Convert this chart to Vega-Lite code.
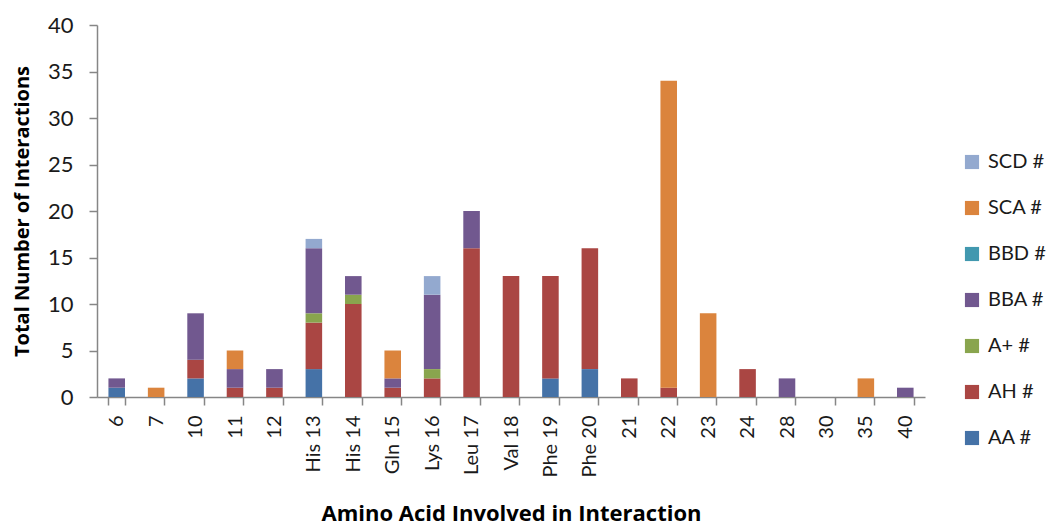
{
  "$schema": "https://vega.github.io/schema/vega-lite/v6.json",
  "autosize": {"type": "none"},
  "padding": {"left": 97, "top": 25, "right": 125, "bottom": 128},
  "width": 828,
  "height": 372,
  "background": "white",
  "config": {
    "view": {"stroke": null},
    "font": "Lato",
    "axis": {"domainColor": "#868686", "tickColor": "#868686", "labelColor": "#1a1a1a", "titleColor": "#000000", "grid": false, "labelFont": "Lato", "titleFont": "Open Sans"},
    "legend": {"labelFont": "Lato"}
  },
  "datasets": {
    "types": [
      {"type": "AA #", "rank": 1},
      {"type": "AH #", "rank": 2},
      {"type": "A+ #", "rank": 3},
      {"type": "BBA #", "rank": 4},
      {"type": "BBD #", "rank": 5},
      {"type": "SCA #", "rank": 6},
      {"type": "SCD #", "rank": 7}
    ]
  },
  "data": {"values": [
    {"aa": "6", "type": "AA #", "n": 1},
    {"aa": "6", "type": "BBA #", "n": 1},
    {"aa": "7", "type": "SCA #", "n": 1},
    {"aa": "10", "type": "AA #", "n": 2},
    {"aa": "10", "type": "AH #", "n": 2},
    {"aa": "10", "type": "BBA #", "n": 5},
    {"aa": "11", "type": "AH #", "n": 1},
    {"aa": "11", "type": "BBA #", "n": 2},
    {"aa": "11", "type": "SCA #", "n": 2},
    {"aa": "12", "type": "AH #", "n": 1},
    {"aa": "12", "type": "BBA #", "n": 2},
    {"aa": "His 13", "type": "AA #", "n": 3},
    {"aa": "His 13", "type": "AH #", "n": 5},
    {"aa": "His 13", "type": "A+ #", "n": 1},
    {"aa": "His 13", "type": "BBA #", "n": 7},
    {"aa": "His 13", "type": "SCD #", "n": 1},
    {"aa": "His 14", "type": "AH #", "n": 10},
    {"aa": "His 14", "type": "A+ #", "n": 1},
    {"aa": "His 14", "type": "BBA #", "n": 2},
    {"aa": "Gln 15", "type": "AH #", "n": 1},
    {"aa": "Gln 15", "type": "BBA #", "n": 1},
    {"aa": "Gln 15", "type": "SCA #", "n": 3},
    {"aa": "Lys 16", "type": "AH #", "n": 2},
    {"aa": "Lys 16", "type": "A+ #", "n": 1},
    {"aa": "Lys 16", "type": "BBA #", "n": 8},
    {"aa": "Lys 16", "type": "SCD #", "n": 2},
    {"aa": "Leu 17", "type": "AH #", "n": 16},
    {"aa": "Leu 17", "type": "BBA #", "n": 4},
    {"aa": "Val 18", "type": "AH #", "n": 13},
    {"aa": "Phe 19", "type": "AA #", "n": 2},
    {"aa": "Phe 19", "type": "AH #", "n": 11},
    {"aa": "Phe 20", "type": "AA #", "n": 3},
    {"aa": "Phe 20", "type": "AH #", "n": 13},
    {"aa": "21", "type": "AH #", "n": 2},
    {"aa": "22", "type": "AH #", "n": 1},
    {"aa": "22", "type": "SCA #", "n": 33},
    {"aa": "23", "type": "SCA #", "n": 9},
    {"aa": "24", "type": "AH #", "n": 3},
    {"aa": "28", "type": "BBA #", "n": 2},
    {"aa": "30", "type": "AA #", "n": 0},
    {"aa": "35", "type": "SCA #", "n": 2},
    {"aa": "40", "type": "BBA #", "n": 1}
  ]},
  "transform": [
    {"lookup": "type", "from": {"data": {"name": "types"}, "key": "type", "fields": ["rank"]}}
  ],
  "mark": {"type": "bar"},
  "encoding": {
    "x": {
      "field": "aa", "type": "nominal",
      "scale": {"domain": ["6","7","10","11","12","His 13","His 14","Gln 15","Lys 16","Leu 17","Val 18","Phe 19","Phe 20","21","22","23","24","28","30","35","40"], "paddingInner": 0.58, "paddingOuter": 0.29},
      "axis": {
        "title": "Amino Acid Involved in Interaction",
        "titleFontSize": 22, "titleFontWeight": "bold",
        "titleY": 116, "titleBaseline": "middle",
        "labelAngle": -90, "labelAlign": "right", "labelBaseline": "middle",
        "labelFontSize": 20, "labelPadding": 10,
        "tickBand": "extent", "tickSize": 8,
        "domainWidth": 1.5, "tickWidth": 1.5
      }
    },
    "y": {
      "field": "n", "type": "quantitative", "stack": "zero",
      "scale": {"domain": [0, 40], "nice": false},
      "axis": {
        "title": "Total Number of Interactions",
        "titleFontSize": 20, "titleFontWeight": "bold",
        "titleX": -75, "titleY": 186, "titleBaseline": "middle", "titleAlign": "center", "titleAngle": -90,
        "values": [0,5,10,15,20,25,30,35,40],
        "labelFontSize": 22, "labelPadding": 16, "tickSize": 8,
        "domainWidth": 1.5, "tickWidth": 1.5
      }
    },
    "color": {
      "field": "type", "type": "nominal",
      "scale": {
        "domain": ["SCD #","SCA #","BBD #","BBA #","A+ #","AH #","AA #"],
        "range": ["#93A9CF","#DB843D","#4198AF","#71588F","#89A54E","#AA4643","#4572A7"]
      },
      "legend": {
        "title": null, "orient": "none", "legendX": 865, "legendY": 127,
        "symbolType": "square", "symbolSize": 200, "symbolStrokeWidth": 0,
        "labelFontSize": 20, "labelColor": "#1a1a1a", "rowPadding": 26, "labelOffset": 6
      }
    },
    "order": {"field": "rank", "type": "quantitative"}
  }
}
